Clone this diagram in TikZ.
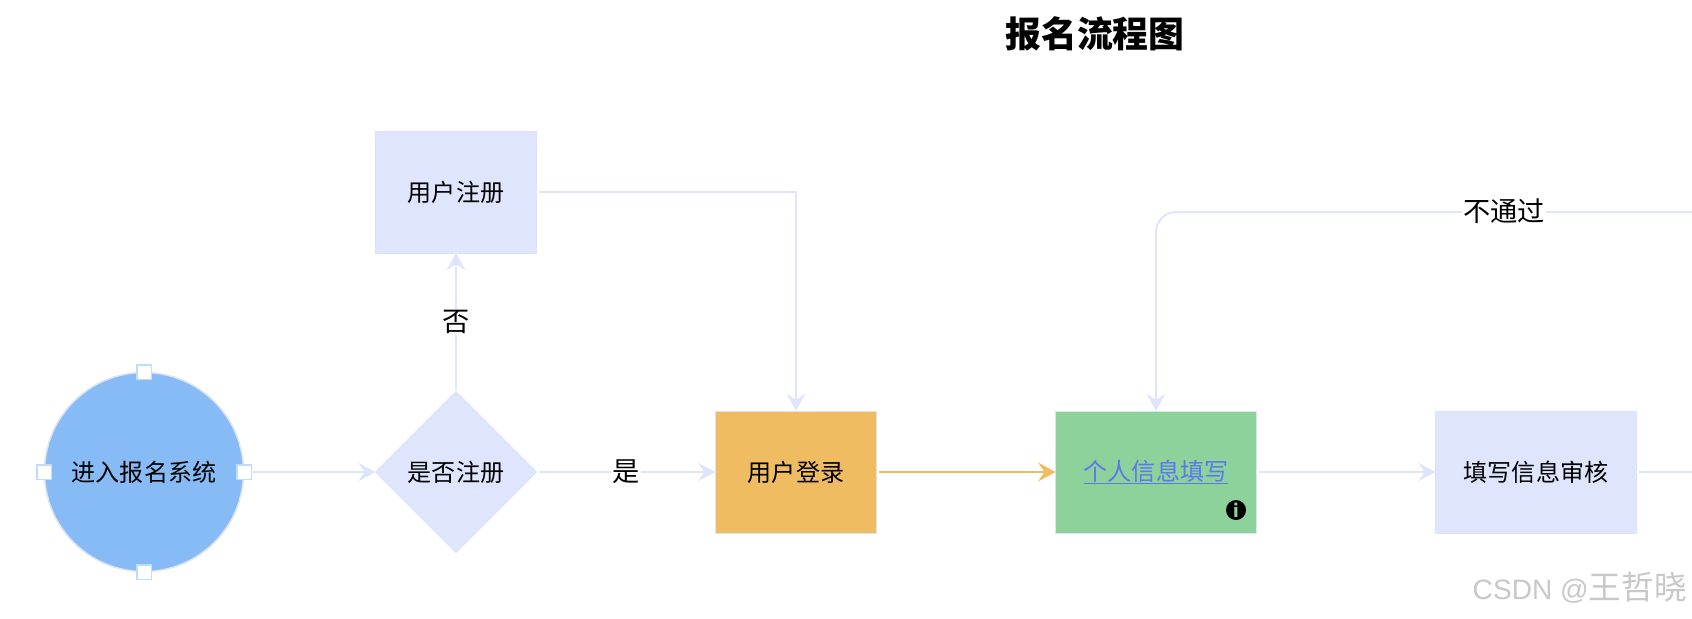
\documentclass[tikz,border=0pt]{standalone}
\usepackage{fontspec}
\setmainfont{Noto Sans CJK SC}
\newfontfamily\markfont{Liberation Sans}
\usetikzlibrary{shapes.geometric,arrows.meta}
\definecolor{flowblue}{HTML}{DFE5FC}
\definecolor{flowedge}{HTML}{DCE3F6}
\definecolor{startblue}{HTML}{87BBF5}
\definecolor{loginorange}{HTML}{EFBC62}
\definecolor{formgreen}{HTML}{8CD29A}
\definecolor{linkblue}{HTML}{5D78EF}
\definecolor{handleblue}{HTML}{BFDDFB}
\definecolor{markgray}{HTML}{C8C8C8}
\newcommand{\linktext}[1]{\sbox0{#1}\rlap{\rule[-2.2pt]{\wd0}{0.85pt}}\box0}
\tikzset{
  boxnode/.style={draw=flowedge,fill=flowblue,line width=0.2mm,rectangle,inner sep=0pt,outer sep=0pt,
    minimum width=32.3mm,minimum height=24.4mm,font=\fontsize{13.7pt}{16pt}\selectfont},
  widebox/.style={boxnode,minimum width=40.2mm},
  handlenode/.style={draw=handleblue,fill=white,line width=0.3mm,rectangle,inner sep=0pt,outer sep=0pt,minimum size=2.9mm},
  flowline/.style={draw=flowblue,line width=0.4mm,-{Stealth[length=3.5mm,width=3.8mm,inset=1.3mm]}},
  plainline/.style={draw=flowblue,line width=0.4mm},
  lbl/.style={fill=white,inner sep=0.2mm,font=\fontsize{15.5pt}{18pt}\selectfont}
}
\begin{document}
\begin{tikzpicture}[x=0.2mm,y=-0.2mm]
\useasboundingbox (0,0) rectangle (1692,618);
\node[font=\fontsize{20.4pt}{24pt}\bfseries\selectfont] (title) at (1095,33.5) {报名流程图};

\node[circle,draw=flowedge,fill=startblue,line width=0.3mm,inner sep=0pt,outer sep=0pt,minimum size=39.8mm,
  font=\fontsize{13.7pt}{16pt}\selectfont] (enter) at (144,472) {进入报名系统};
\node[handlenode] (hdlN) at (144,372) {};
\node[handlenode] (hdlS) at (144,572) {};
\node[handlenode] (hdlW) at (44,472) {};
\node[handlenode] (hdlE) at (244,472) {};

\node[diamond,draw=flowedge,fill=flowblue,line width=0.2mm,inner sep=0pt,outer sep=0pt,minimum size=32.2mm,
  font=\fontsize{13.7pt}{16pt}\selectfont] (isreg) at (456,472) {是否注册};
\node[boxnode] (reg) at (456,192) {用户注册};
\node[boxnode,fill=loginorange] (login) at (796,472) {用户登录};
\node[widebox,fill=formgreen,text=linkblue] (form) at (1156,472) {\linktext{个人信息填写}};
\node[circle,fill=black,text=formgreen,inner sep=0pt,minimum size=4mm,
  font=\fontsize{10pt}{10pt}\bfseries\selectfont] (info) at (1236,510) {i};
\node[widebox] (audit) at (1536,472) {填写信息审核};

\coordinate (outR) at (1692,472);
\coordinate (topR) at (1692,212);

\draw[flowline] (hdlE.east) -- (isreg.west);
\draw[flowline,shorten <=0.4mm] (isreg.east) -- (login.west) node[midway,lbl] (lblyes) {是};
\draw[flowline,shorten <=0.4mm] (isreg.north) -- (reg.south) node[midway,lbl] (lblno) {否};
\draw[flowline,shorten <=0.4mm] (reg.east) -| (login.north);
\draw[draw=loginorange,line width=0.4mm,shorten <=0.4mm,-{Stealth[length=3.5mm,width=3.8mm,inset=1.3mm]}] (login.east) -- (form.west);
\draw[flowline,shorten <=0.4mm] (form.east) -- (audit.west);
\draw[plainline,shorten <=0.4mm] (audit.east) -- (outR);
\draw[flowline,rounded corners=4mm] (topR) -| (form.north);
\node[lbl] (lblfail) at (1504,211) {不通过};

\node[text=markgray,anchor=east,font=\fontsize{18.6pt}{20pt}\selectfont] (mark) at (1693,588) {{\markfont\fontsize{16pt}{20pt}\selectfont CSDN @}王哲晓};
\end{tikzpicture}
\end{document}
